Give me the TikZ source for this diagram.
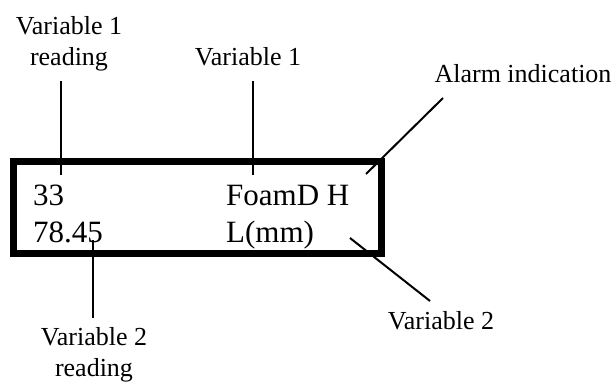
\documentclass[tikz,border=0pt]{standalone}
\usepackage{fontspec}
\setmainfont{Liberation Serif}
\begin{document}
\begin{tikzpicture}[x=1pt,y=-1pt,
  lbl/.style={font=\fontsize{26}{31}\selectfont, inner sep=0pt, align=center},
  disp/.style={font=\fontsize{31}{37}\selectfont, inner sep=0pt, anchor=base west},
  leader/.style={line width=2pt},
  frame/.style={draw, line width=7pt, inner sep=0pt, minimum width=368pt, minimum height=92.5pt}]
\useasboundingbox (0,0) rectangle (616,381);
% display frame
\node[frame] (box) at (197.5,207.25) {};
% display texts
\node[disp] (v1r) at (33,205) {33};
\node[disp] (v2r) at (33,242) {78.45};
\node[disp] (v1) at (226,205) {FoamD H};
\node[disp] (v2) at (226,242) {L(mm)};
% labels (base anchor = baseline of last line)
\node[lbl, anchor=base] (l1r) at (69,65) {Variable 1\\reading};
\node[lbl, anchor=base] (l1) at (248,65) {Variable 1};
\node[lbl, anchor=base] (lal) at (523,82) {Alarm indication};
\node[lbl, anchor=base] (l2) at (441,329) {Variable 2};
\node[lbl, anchor=base] (l2r) at (94,376) {Variable 2\\reading};
% leader ends
\coordinate (a1) at (61,81);   \coordinate (b1) at (61,175);
\coordinate (a2) at (253,81);  \coordinate (b2) at (253,175);
\coordinate (a3) at (443,98);  \coordinate (b3) at (366,174);
\coordinate (a4) at (430,301); \coordinate (b4) at (350,238);
\coordinate (a5) at (93,318);  \coordinate (b5) at (93,240);
\draw[leader] (a1) -- (b1);
\draw[leader] (a2) -- (b2);
\draw[leader] (a3) -- (b3);
\draw[leader] (a4) -- (b4);
\draw[leader] (a5) -- (b5);
\end{tikzpicture}
\end{document}
